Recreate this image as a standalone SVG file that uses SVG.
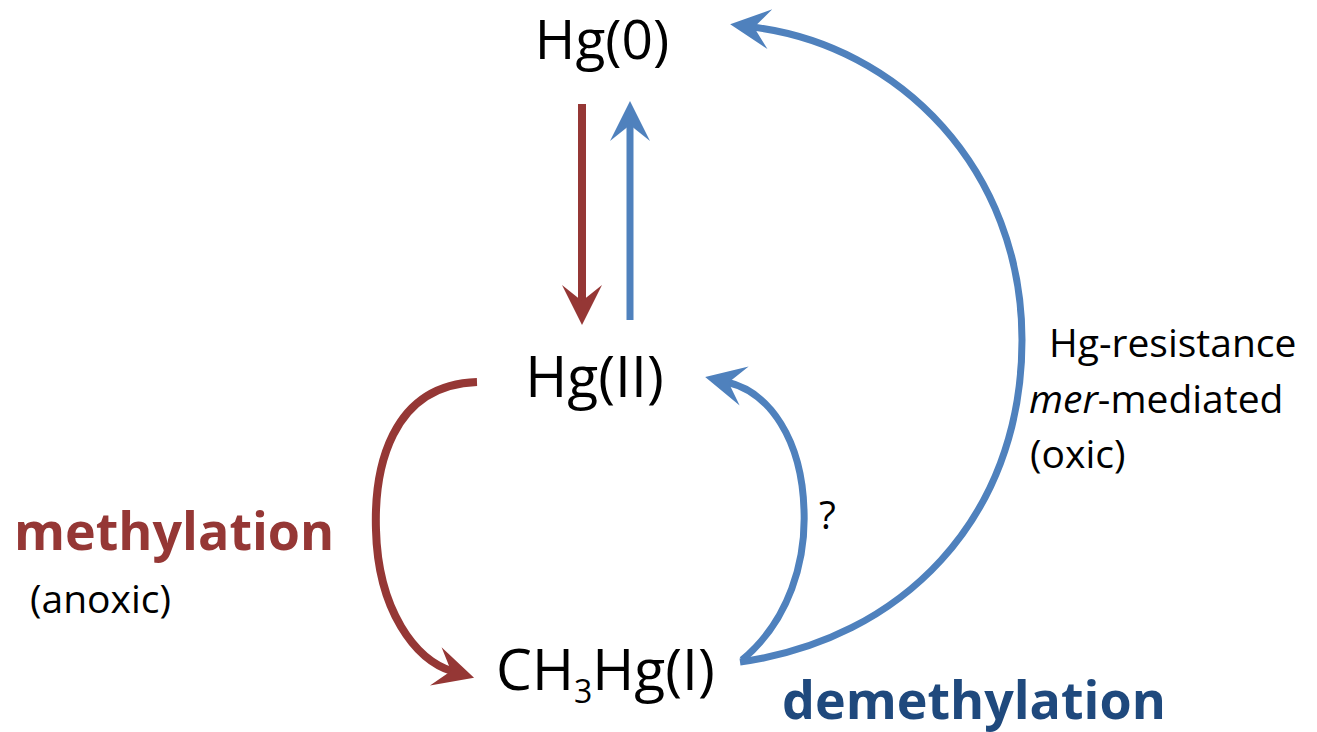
<svg xmlns="http://www.w3.org/2000/svg" width="1317" height="732" viewBox="0 0 1317 732">
<style>
.lbl{font-family:"Open Sans","Liberation Sans",sans-serif;fill:#000}
.big{font-size:57px}
.mid{font-size:39px}
.bold{font-size:52px;font-weight:bold}
.red{stroke:#953735;stroke-width:8;fill:none}
.blue{stroke:#4F81BD;stroke-width:7;fill:none}
</style>
<defs>
<marker id="ahR" markerUnits="userSpaceOnUse" markerWidth="44" markerHeight="44" viewBox="-2 -22 44 44" refX="18" refY="0" orient="auto"><path d="M40,0 L0,-20 L16,0 L0,20 Z" fill="#953735"/></marker>
<marker id="ahB" markerUnits="userSpaceOnUse" markerWidth="44" markerHeight="44" viewBox="-2 -22 44 44" refX="18" refY="0" orient="auto"><path d="M40,0 L0,-20 L16,0 L0,20 Z" fill="#4F81BD"/></marker>
</defs>
<rect width="1317" height="732" fill="#fff"/>
<g id="connectors">
<path class="red" d="M582,104 L582,303" marker-end="url(#ahR)"/>
<path class="blue" d="M630,320 L630,123" marker-end="url(#ahB)"/>
<path class="red" d="M477,382 C390,385 374,470 376,530 C378,610 415,660 453,671.5" marker-end="url(#ahR)"/>
<path class="blue" d="M742,660 C790,620 806,560 804,510 C802,440 770,392 726.6,382" marker-end="url(#ahB)"/>
<path class="blue" d="M740,662 C900,640 1022,520 1022,340 C1022,170 900,45 752,27" marker-end="url(#ahB)"/>
</g>
<g id="hg0"><text class="lbl" x="602" y="59" font-size="55" text-anchor="middle">Hg(0)</text></g>
<g id="hg2"><text class="lbl big" x="594.5" y="397" text-anchor="middle">Hg(II)</text></g>
<g id="ch3hg"><text class="lbl big" x="496" y="690">CH<tspan font-size="32" dy="13">3</tspan><tspan dy="-13">Hg(I)</tspan></text></g>
<g id="labels">
<text class="lbl mid" x="1049" y="357">Hg-resistance</text>
<text class="lbl mid" x="1029" y="413"><tspan font-style="italic">mer</tspan>-mediated</text>
<text class="lbl mid" x="1030" y="468">(oxic)</text>
<text class="lbl bold" x="14" y="550" style="fill:#953735">methylation</text>
<text class="lbl mid" x="30" y="613">(anoxic)</text>
<text class="lbl mid" x="819" y="529">?</text>
<text class="lbl bold" x="782" y="719" style="fill:#1F497D">demethylation</text>
</g>
</svg>
